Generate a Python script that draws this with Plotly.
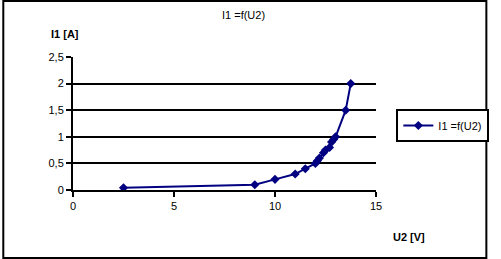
import plotly.graph_objects as go

u2 = [2.5, 9.0, 10.0, 11.0, 11.5, 12.0, 12.1, 12.2, 12.4, 12.5, 12.7, 12.8, 12.9, 13.0, 13.5, 13.75]
i1 = [0.04, 0.1, 0.2, 0.3, 0.4, 0.5, 0.55, 0.6, 0.7, 0.75, 0.8, 0.9, 0.95, 1.0, 1.5, 2.0]
title = "I1 =f(U2)"
x_title = "U2 [V]"
y_title = "I1 [A]"

W, H = 501, 259
L, R, T, B = 73, 115, 57, 69
pw, ph = W - L - R, H - T - B

fig = go.Figure()
fig.add_trace(go.Scatter(
    x=u2, y=i1, mode="lines+markers", name=title,
    line=dict(color="#000080", width=2),
    marker=dict(symbol="diamond", size=7, color="#000080"),
))

font = dict(family="Liberation Sans, Arial, sans-serif", size=11, color="#000000")

fig.update_layout(
    width=W, height=H,
    margin=dict(l=L, r=R, t=T, b=B),
    paper_bgcolor="white", plot_bgcolor="white",
    separators=", ",
    font=font,
    showlegend=True,
    legend=dict(x=(407 - L) / pw, y=1 - (109 - T) / ph, xanchor="left", yanchor="top",
                bordercolor="black", borderwidth=2, bgcolor="white",
                font=font, itemwidth=30, tracegroupgap=0),
    xaxis=dict(range=[0, 15], dtick=5, showgrid=False, zeroline=False,
               showline=True, linecolor="black", linewidth=2,
               ticks="outside", ticklen=5, tickwidth=2, tickcolor="black",
               fixedrange=True),
    yaxis=dict(range=[0, 2.5], dtick=0.5, showgrid=True, gridcolor="black", gridwidth=2,
               zeroline=False, showline=True, linecolor="black", linewidth=2,
               ticks="outside", ticklen=5, tickwidth=2, tickcolor="black",
               tickformat=",.1~f", fixedrange=True),
    annotations=[
        dict(text=title, xref="paper", yref="paper", x=(249 - L) / pw, y=1 + (T - 15) / ph,
             showarrow=False, xanchor="center", yanchor="middle", font=font),
        dict(text="<b>" + y_title + "</b>", xref="paper", yref="paper",
             x=(65 - L) / pw, y=1 + (T - 34) / ph,
             showarrow=False, xanchor="center", yanchor="middle", font=font),
        dict(text="<b>" + x_title + "</b>", xref="paper", yref="paper",
             x=(420 - L) / pw, y=-(237 - T - ph) / ph,
             showarrow=False, xanchor="center", yanchor="middle", font=font),
    ],
    shapes=[dict(type="rect", xref="paper", yref="paper",
                 x0=-(L - 1) / pw, x1=1 + (R - 1) / pw,
                 y0=-(B - 1) / ph, y1=1 + (T - 1) / ph,
                 line=dict(color="black", width=2), layer="below")],
)

fig.write_html("out.html")
